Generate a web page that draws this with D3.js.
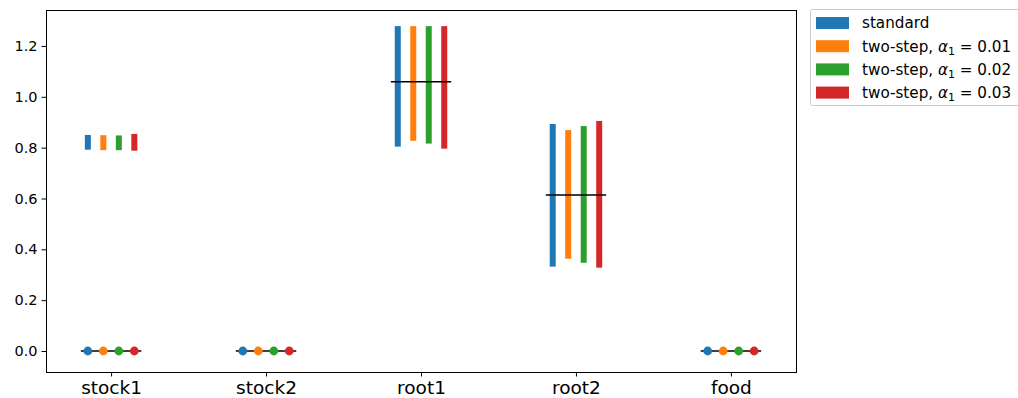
<!DOCTYPE html>
<html><head><meta charset="utf-8">
<script src="https://cdn.jsdelivr.net/npm/d3@7"></script>
<style>body{margin:0;background:#fff}svg{font-family:"DejaVu Sans",sans-serif}</style>
</head><body><svg id="c" width="1018" height="398"></svg>
<script>
const categories = ["stock1","stock2","root1","root2","food"];
const seriesNames = ["standard","two-step, α₁ = 0.01","two-step, α₁ = 0.02","two-step, α₁ = 0.03"];
const colors = ["#1f77b4","#ff7f0e","#2ca02c","#d62728"];
// interval [low, high] per series per category (null = degenerate / point)
const lows = [
  [0.792, null, 0.804, 0.332, null],
  [0.790, null, 0.827, 0.363, null],
  [0.790, null, 0.816, 0.347, null],
  [0.788, null, 0.796, 0.328, null]
];
const highs = [
  [0.850, null, 1.278, 0.893, null],
  [0.849, null, 1.278, 0.869, null],
  [0.848, null, 1.278, 0.885, null],
  [0.854, null, 1.278, 0.905, null]
];
// point estimates shown as dots (null = none)
const points = [
  [0, 0, null, null, 0],
  [0, 0, null, null, 0],
  [0, 0, null, null, 0],
  [0, 0, null, null, 0]
];
const trueValues = [0, 0, 1.059, 0.614, 0];
const yTicks = [0, 0.2, 0.4, 0.6, 0.8, 1.0, 1.2];
const offsets = [-0.15, -0.05, 0.05, 0.15];

const FONT = "DejaVu Sans";
const svg = d3.select("#c");
const L = 46, R = 796, T = 10, B = 372;
const x = d3.scaleLinear().domain([-0.42, 4.42]).range([L, R]);
const y = d3.scaleLinear().domain([-0.0826, 1.3415]).range([B, T]);

// bars
seriesNames.forEach((s, si) => {
  categories.forEach((c, ci) => {
    const lo = lows[si][ci], hi = highs[si][ci];
    if (lo !== null && hi !== null) {
      svg.append("rect")
        .attr("x", x(ci + offsets[si]) - 3)
        .attr("width", 6)
        .attr("y", y(hi))
        .attr("height", y(lo) - y(hi))
        .attr("fill", colors[si]);
    }
  });
});
// true value lines
trueValues.forEach((v, ci) => {
  svg.append("line")
    .attr("x1", x(ci - 0.195)).attr("x2", x(ci + 0.195))
    .attr("y1", y(v)).attr("y2", y(v))
    .attr("stroke", "#000").attr("stroke-width", 1.6);
});
// points
seriesNames.forEach((s, si) => {
  categories.forEach((c, ci) => {
    const p = points[si][ci];
    if (p !== null) {
      svg.append("circle")
        .attr("cx", x(ci + offsets[si])).attr("cy", y(p)).attr("r", 4.4)
        .attr("fill", colors[si]);
    }
  });
});

// axes
const yAxis = d3.axisLeft(y).tickValues(yTicks).tickFormat(d3.format(".1f")).tickSize(4.5).tickPadding(4);
const gy = svg.append("g").attr("transform", `translate(${L},0)`).call(yAxis)
  .attr("font-family", FONT).attr("font-size", 14.5);
gy.select(".domain").remove();
gy.selectAll("text").attr("fill", "#000");
gy.selectAll("line").attr("stroke", "#000");

const xAxis = d3.axisBottom(x).tickValues(d3.range(categories.length)).tickFormat(i => categories[i]).tickSize(4.5).tickPadding(4);
const gx = svg.append("g").attr("transform", `translate(0,${B})`).call(xAxis)
  .attr("font-family", FONT).attr("font-size", 18.5);
gx.select(".domain").remove();
gx.selectAll("text").attr("fill", "#000");
gx.selectAll("line").attr("stroke", "#000");

svg.append("rect").attr("x", L + 0.5).attr("y", T + 0.5).attr("width", R - L).attr("height", B - T)
  .attr("fill", "none").attr("stroke", "#000").attr("stroke-width", 1);

// legend
const lg = svg.append("g").attr("font-family", FONT);
lg.append("rect").attr("x", 810.5).attr("y", 9.5).attr("width", 214).attr("height", 96)
  .attr("fill", "#fff").attr("stroke", "#ccc").attr("rx", 2);
seriesNames.forEach((s, i) => {
  const cy = 23 + i * 23.2;
  lg.append("rect").attr("x", 816).attr("y", cy - 6).attr("width", 33).attr("height", 12).attr("fill", colors[i]);
  const t = lg.append("text").attr("x", 862).attr("y", cy + 5.3).attr("font-size", 15.2).attr("fill", "#000");
  if (i === 0) {
    t.text(s);
  } else {
    const val = s.split("= ")[1];
    t.append("tspan").text("two-step, ");
    t.append("tspan").attr("font-style", "italic").text("α");
    t.append("tspan").attr("font-size", 11).attr("dy", 3).text("1");
    t.append("tspan").attr("dy", -3).text(" = " + val);
  }
});
</script></body></html>
